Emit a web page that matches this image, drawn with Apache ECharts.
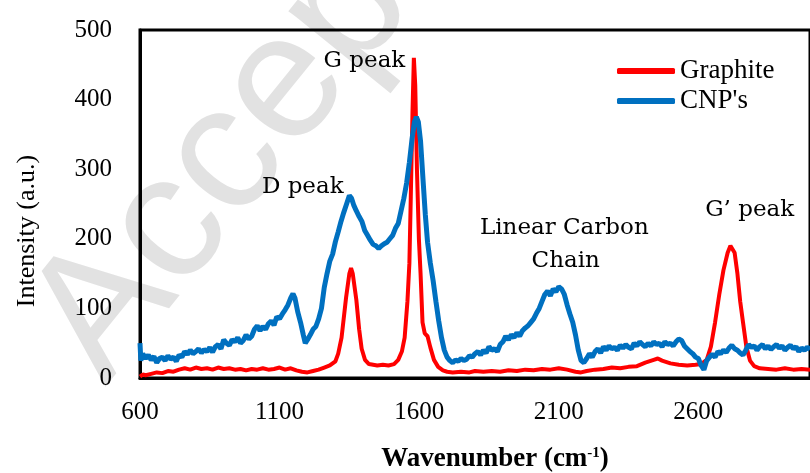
<!DOCTYPE html>
<html><head><meta charset="utf-8">
<script src="https://cdn.jsdelivr.net/npm/echarts@6/dist/echarts.min.js"></script>
<style>html,body{margin:0;padding:0;background:#fff}#c{width:810px;height:473px}</style>
</head><body><div id="c"></div>
<script>
const seriesNames = ['Graphite', "CNP's"];
const xTickValues = [600, 1100, 1600, 2100, 2600];
const yTickValues = [0, 100, 200, 300, 400, 500];

const graphiteSpectrum = [
[600,2],[610,5],[620,4],[640,6],[660,8],[680,7],[700,10],[720,9],[740,12],[760,14],[780,12],[800,15],
[820,13],[840,14],[860,12],[880,15],[900,13],[920,14],[940,12],[960,13],[980,11],[1000,13],[1020,12],
[1040,14],[1060,12],[1080,13],[1100,15],[1120,12],[1140,14],[1160,11],[1180,9],[1200,8],[1220,10],
[1240,12],[1260,15],[1280,18],[1300,24],[1310,35],[1322,58],[1338,115],[1350,150],[1356,158],[1362,150],
[1375,112],[1385,70],[1394,42],[1406,26],[1420,20],[1435,19],[1450,18],[1470,19],[1490,18],[1510,20],
[1525,26],[1538,38],[1548,58],[1558,110],[1565,165],[1570,260],[1576,380],[1581,460],[1586,420],
[1592,300],[1599,200],[1605,150],[1612,80],[1620,64],[1630,60],[1640,44],[1653,26],[1668,16],[1685,11],
[1700,9],[1720,8],[1750,9],[1780,8],[1800,10],[1830,9],[1860,10],[1890,9],[1920,11],[1950,10],[1980,12],
[2010,11],[2040,13],[2070,12],[2100,14],[2130,12],[2160,9],[2180,8],[2200,10],[2230,12],[2260,13],
[2290,15],[2320,14],[2350,16],[2380,17],[2410,22],[2440,26],[2455,28],[2470,25],[2500,21],[2530,19],
[2560,18],[2590,19],[2610,20],[2630,26],[2645,45],[2660,80],[2675,120],[2690,155],[2705,180],[2715,190],
[2722,192],[2730,180],[2740,150],[2750,110],[2760,80],[2772,45],[2785,25],[2800,17],[2820,14],[2850,13],
[2880,12],[2910,14],[2940,12],[2970,13],[3000,12]
];

const cnpSpectrum = [
[600,50],[603,25],[610,35],[620,28],[630,33],[640,26],[650,31],[660,22],[670,28],[680,30],[690,25],
[700,32],[710,27],[720,30],[730,24],[740,33],[750,30],[760,38],[770,34],[780,40],[790,35],[800,38],
[810,42],[820,36],[830,41],[840,38],[850,44],[860,37],[870,45],[880,48],[890,42],[900,55],[910,50],
[920,47],[930,55],[940,52],[950,58],[960,50],[970,54],[980,62],[990,56],[1000,60],[1010,70],[1020,75],
[1030,68],[1040,74],[1050,70],[1060,78],[1070,82],[1080,76],[1090,88],[1100,85],[1110,92],[1120,98],
[1130,105],[1140,115],[1148,121],[1155,115],[1165,95],[1175,80],[1185,62],[1192,50],[1200,55],[1210,62],
[1220,70],[1230,74],[1240,85],[1250,100],[1260,130],[1270,150],[1280,168],[1290,178],[1300,196],
[1310,210],[1320,225],[1330,238],[1340,250],[1350,262],[1358,258],[1366,248],[1375,240],[1385,232],
[1395,225],[1405,212],[1415,205],[1425,198],[1435,192],[1445,190],[1455,186],[1465,190],[1475,193],
[1485,195],[1495,200],[1505,205],[1515,215],[1525,222],[1535,240],[1545,258],[1555,280],[1565,310],
[1575,345],[1583,368],[1590,375],[1597,368],[1605,340],[1613,290],[1622,235],[1630,195],[1640,165],
[1650,140],[1660,110],[1670,82],[1680,58],[1690,40],[1700,30],[1710,25],[1720,22],[1730,26],[1740,24],
[1750,28],[1760,25],[1770,27],[1780,32],[1790,30],[1800,35],[1810,38],[1820,33],[1830,40],[1840,36],
[1850,45],[1860,40],[1870,42],[1880,38],[1890,48],[1900,52],[1910,60],[1920,55],[1930,62],[1940,58],
[1950,65],[1960,60],[1970,68],[1980,72],[1990,75],[2000,80],[2010,85],[2020,93],[2030,100],[2040,110],
[2050,120],[2060,125],[2070,118],[2080,128],[2090,124],[2100,131],[2110,128],[2120,120],[2130,105],
[2140,92],[2150,80],[2160,62],[2170,40],[2180,25],[2190,22],[2200,28],[2210,35],[2220,30],[2230,38],
[2240,42],[2250,36],[2260,45],[2270,40],[2280,46],[2290,42],[2300,44],[2310,40],[2320,47],[2330,43],
[2340,48],[2350,44],[2360,42],[2370,50],[2380,46],[2390,52],[2400,48],[2410,45],[2420,50],[2430,46],
[2440,52],[2450,48],[2460,50],[2470,45],[2480,52],[2490,48],[2500,50],[2510,46],[2520,52],[2530,56],
[2540,54],[2550,46],[2560,42],[2570,38],[2580,35],[2590,30],[2600,28],[2610,18],[2620,12],[2630,25],
[2640,30],[2650,34],[2660,30],[2670,38],[2680,35],[2690,40],[2700,37],[2710,43],[2720,47],[2730,42],
[2740,40],[2750,36],[2760,33],[2770,40],[2780,48],[2790,44],[2800,46],[2810,40],[2820,45],[2830,48],
[2840,42],[2850,46],[2860,41],[2870,45],[2880,48],[2890,43],[2900,46],[2910,40],[2920,44],[2930,47],
[2940,42],[2950,45],[2960,38],[2970,43],[2980,40],[2990,44],[3000,41]
];

const annotations = [
  {text: 'G peak', x: 1404, y: 455},
  {text: 'D peak', x: 1183, y: 275},
  {text: 'Linear Carbon', x: 2120, y: 215},
  {text: 'Chain', x: 2125, y: 168},
  {text: 'G\u2019 peak', x: 2784, y: 242}
];

const chart = echarts.init(document.getElementById('c'), null, {renderer: 'canvas'});
const serif = "'Liberation Serif', serif";
const annFont = "'DejaVu Serif', serif";

chart.setOption({
  animation: false,
  backgroundColor: '#ffffff',
  grid: {left: 140, right: -8, top: 30, bottom: 95, show: true, borderColor: '#000', borderWidth: 3, backgroundColor: 'transparent'},
  legend: {
    data: seriesNames, orient: 'vertical', left: 612, top: 52, itemWidth: 58, itemHeight: 6, itemGap: 2,
    icon: 'roundRect', selectedMode: false,
    textStyle: {fontFamily: serif, fontSize: 27, color: '#000', lineHeight: 28}
  },
  xAxis: {
    type: 'value', min: 600, max: 3000, interval: 500,
    axisLine: {show: true, lineStyle: {color: '#000', width: 3}},
    axisTick: {show: false}, splitLine: {show: false},
    axisLabel: {showMaxLabel: false, margin: 22, fontFamily: serif, fontSize: 25, color: '#000',
      formatter: v => xTickValues.includes(v) ? String(v) : ''}
  },
  yAxis: {
    type: 'value', min: 0, max: 500, interval: 100,
    axisLine: {show: true, lineStyle: {color: '#000', width: 3}},
    axisTick: {show: false}, splitLine: {show: false},
    axisLabel: {margin: 28, fontFamily: serif, fontSize: 25, color: '#000',
      formatter: v => yTickValues.includes(v) ? String(v) : ''}
  },
  series: [
    {name: seriesNames[0], type: 'line', data: graphiteSpectrum, showSymbol: false, symbol: 'none',
      lineStyle: {color: '#ff0000', width: 4}, itemStyle: {color: '#ff0000'}, z: 3},
    {name: seriesNames[1], type: 'line', data: cnpSpectrum, showSymbol: false, symbol: 'none',
      lineStyle: {color: '#0070c0', width: 5}, itemStyle: {color: '#0070c0'}, z: 4,
      markPoint: {
        symbol: 'circle', symbolSize: 0, silent: true,
        label: {show: true, fontFamily: annFont, fontSize: 23, color: '#000', formatter: p => p.name},
        data: annotations.map(a => ({name: a.text, coord: [a.x, a.y]}))
      }}
  ],
  graphic: [
    {type: 'text', z: -10, x: 67, y: 356, rotation: 51 * Math.PI / 180,
      style: {text: 'Accepted Manuscript', fontFamily: "'Liberation Sans', sans-serif", fontSize: 178,
        fill: '#e2e2e2', align: 'left', verticalAlign: 'middle'}},
    {type: 'text', x: 27, y: 231, rotation: Math.PI / 2,
      style: {text: 'Intensity (a.u.)', fontFamily: serif, fontSize: 26, fill: '#000', align: 'center', verticalAlign: 'middle'}},
    {type: 'text', x: 495, y: 459,
      style: {text: 'Wavenumber (cm{sup|-1})', fontFamily: serif, fontSize: 27, fontWeight: 'bold', fill: '#000',
        align: 'center', verticalAlign: 'middle',
        rich: {sup: {fontFamily: serif, fontSize: 15, fontWeight: 'bold', fill: '#000', verticalAlign: 'top', padding: [0,0,12,0]}}}}
  ]
});
</script></body></html>
